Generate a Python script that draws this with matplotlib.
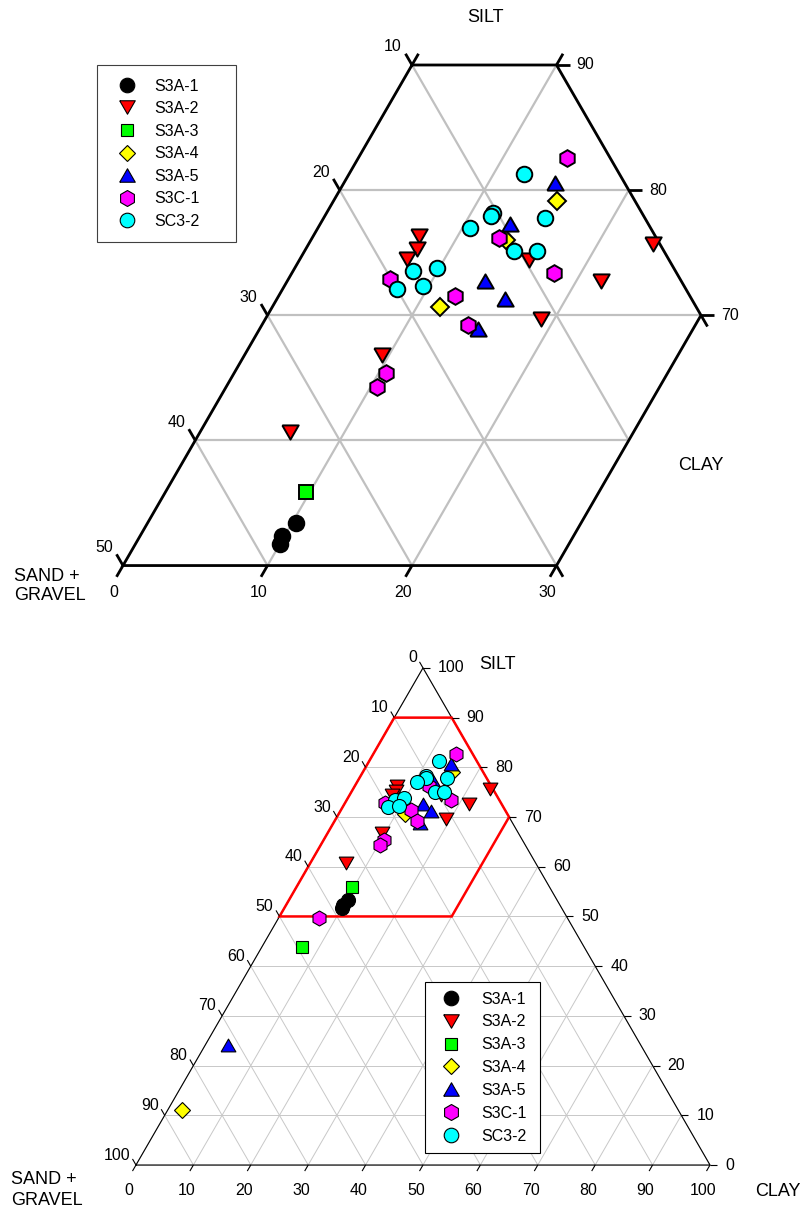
import numpy as np
import matplotlib.pyplot as plt
from matplotlib.lines import Line2D
from matplotlib.patches import Polygon
from matplotlib.path import Path

plt.rcParams['font.family'] = ['Liberation Sans', 'DejaVu Sans']

# samples as (sand + gravel, silt, clay) in percent
s3a_1 = [(36.3, 53.4, 10.3), (37.8, 52.4, 9.8), (38.3, 51.7, 10.0)]
s3a_2 = [(16.4, 76.3, 7.3), (17.0, 75.3, 7.7), (18.1, 74.5, 7.4), (9.7, 74.4, 15.9),
         (5.6, 72.7, 21.7), (11.2, 69.7, 19.1), (0.5, 75.7, 23.8), (23.7, 66.8, 9.5),
         (33.1, 60.7, 6.2)]
s3a_3 = [(34.4, 55.9, 9.7), (49.2, 43.9, 6.9)]
s3a_4 = [(5.4, 79.1, 15.5), (10.5, 76.0, 13.5), (17.7, 70.7, 11.6), (86.5, 11.1, 2.4)]
s3a_5 = [(4.8, 80.6, 14.6), (9.6, 77.3, 13.1), (13.6, 72.7, 13.7), (12.9, 71.3, 15.8),
         (16.0, 68.9, 15.1), (71.9, 24.2, 3.9)]
s3c_1 = [(3.0, 82.6, 14.4), (10.9, 76.2, 12.9), (20.1, 72.9, 7.0), (8.5, 73.4, 18.1),
         (16.3, 71.5, 12.2), (16.5, 69.2, 14.3), (24.1, 65.4, 10.5), (25.3, 64.3, 10.4),
         (43.3, 49.7, 7.0)]
sc3_2 = [(6.6, 81.3, 12.1), (10.3, 78.2, 11.5), (10.6, 77.9, 11.5), (6.9, 77.8, 15.3),
         (12.5, 77.0, 10.5), (10.4, 75.1, 14.5), (8.8, 75.1, 16.1), (18.2, 73.5, 8.3),
         (16.4, 73.8, 9.8), (20.0, 72.1, 7.9), (18.1, 72.3, 9.6)]

names = ['S3A-1', 'S3A-2', 'S3A-3', 'S3A-4', 'S3A-5', 'S3C-1', 'SC3-2']
samples = [s3a_1, s3a_2, s3a_3, s3a_4, s3a_5, s3c_1, sc3_2]
colors = ['black', '#ff0000', '#00ff00', '#ffff00', '#0000ff', '#ff00ff', '#00ffff']

tri_down = [(-1, 0.866), (1, 0.866), (0, -0.866), (-1, 0.866)]
tri_up = [(-1, -0.866), (1, -0.866), (0, 0.866), (-1, -0.866)]
markers = ['o', tri_down, 's', 'D', tri_up, 'h', 'o']
msizes = [11.2, 11.8, 9.8, 8.8, 11.8, 12.0, 11.2]
legend_sizes = [10.5, 11.2, 9.2, 8.6, 11.2, 11.5, 10.5]

# enlarged window, (silt, clay) corners
window = [(90, 0), (90, 10), (70, 30), (50, 30), (50, 0)]

# zoomed axis ticks
sand_ticks = [10, 20, 30, 40, 50]
silt_ticks = [90, 80, 70]
clay_ticks = [0, 10, 20, 30]
full_ticks = list(range(0, 101, 10))

SQ = np.sqrt(3) / 2
W, H = 805, 1215


def tern(silt, clay):
    silt = np.asarray(silt, float)
    clay = np.asarray(clay, float)
    return clay + silt / 2, silt * SQ


def grid_segments():
    segs = []
    for v in range(0, 101, 10):
        segs.append((tern([v, v], [0, 100 - v])))            # constant silt
        segs.append((tern([0, 100 - v], [v, v])))            # constant clay
        segs.append((tern([100 - v, 0], [0, 100 - v])))      # constant sand
    return segs


def ticks(ax, pts, direction, length, lw):
    dx, dy = np.asarray(direction) * length
    for x, y in zip(*pts):
        ax.plot([x, x + dx], [y, y + dy], color='black', lw=lw,
                solid_capstyle='butt', zorder=3, clip_on=False)


def labels(ax, pts, texts, off_px, ha, size):
    for x, y, t in zip(*pts, texts):
        ax.annotate(t, (x, y), xytext=(off_px[0] * 0.72, off_px[1] * 0.72),
                    textcoords='offset points', ha=ha, va='center',
                    fontsize=size, annotation_clip=False)


UPLEFT = (-0.5, SQ)
DOWNLEFT = (-0.5, -SQ)
RIGHT = (1.0, 0.0)

fig = plt.figure(figsize=(W / 100, H / 100), dpi=100)

# ---------------- enlarged window ----------------
ax1 = fig.add_axes([0, 1 - 610 / H, 1, 610 / H])
ax1.set_xlim(16.488, 72.197)
ax1.set_ylim(40.225, 82.440)
ax1.axis('off')
k1 = 14.45

wx, wy = tern([p[0] for p in window], [p[1] for p in window])
clip = Polygon(np.column_stack([wx, wy]), closed=True, fill=False,
               edgecolor='none', transform=ax1.transData)
ax1.add_patch(clip)
for gx, gy in grid_segments():
    ln, = ax1.plot(gx, gy, color='#c0c0c0', lw=1.6, zorder=1)
    ln.set_clip_path(clip)
ax1.plot(np.append(wx, wx[0]), np.append(wy, wy[0]), color='black', lw=2.0,
         solid_joinstyle='miter', zorder=3)

t1 = 13 / k1
ticks(ax1, tern(100 - np.array(sand_ticks), np.zeros(5)), UPLEFT, t1, 2.0)
ticks(ax1, tern(silt_ticks, 100 - np.array(silt_ticks)), RIGHT, t1, 2.0)
ticks(ax1, tern(np.full(4, 50), clay_ticks), DOWNLEFT, t1, 2.0)
ticks(ax1, tern([90, 90], [0, 10]), (0.5, SQ), t1, 2.0)
ticks(ax1, tern([70, 50], [30, 30]), (0.5, -SQ), t1, 2.0)

labels(ax1, tern(100 - np.array(sand_ticks), np.zeros(5)), sand_ticks, (-19, 18), 'center', 11.5)
labels(ax1, tern(silt_ticks, 100 - np.array(silt_ticks)), silt_ticks, (20, 0), 'left', 11.5)
labels(ax1, tern(np.full(4, 50), clay_ticks), clay_ticks, (-9, -27), 'center', 11.5)

inside = Path(np.column_stack([wx, wy]))
for pts, c, m, ms in zip(samples, colors, markers, msizes):
    silt = [p[1] for p in pts]
    clay = [p[2] for p in pts]
    x, y = tern(silt, clay)
    keep = inside.contains_points(np.column_stack([x, y]))
    ax1.plot(x[keep], y[keep], ls='none', marker=m, ms=ms, mfc=c, mec='black',
             mew=1.4, zorder=4, clip_on=False)

fig.text(485 / W, 1 - 18 / H, 'SILT', fontsize=13, ha='center', va='center')
fig.text(678 / W, 1 - 466 / H, 'CLAY', fontsize=13, ha='left', va='center')
fig.text(14 / W, 1 - 586 / H, 'SAND +\nGRAVEL', fontsize=13, ha='left', va='center',
         linespacing=1.2)

# ---------------- full triangle ----------------
ax2 = fig.add_axes([0, 0, 1, 605 / H])
ax2.set_xlim(-23.69, 116.55)
ax2.set_ylim(-8.71, 96.69)
ax2.axis('off')
k2 = 5.74

for gx, gy in grid_segments():
    ax2.plot(gx, gy, color='#c8c8c8', lw=0.7, zorder=1)
bx, by = tern([0, 100, 0, 0], [0, 0, 100, 0])
ax2.plot(bx, by, color='black', lw=0.8, zorder=2)
ax2.plot(np.append(wx, wx[0]), np.append(wy, wy[0]), color='#ff0000', lw=1.8,
         solid_joinstyle='miter', zorder=3)

ft = np.array(full_ticks)
t2 = 7 / k2
ticks(ax2, tern(100 - ft, np.zeros(11)), UPLEFT, t2, 0.8)
ticks(ax2, tern(ft, 100 - ft), RIGHT, t2, 0.8)
ticks(ax2, tern(np.zeros(11), ft), DOWNLEFT, t2, 0.8)
labels(ax2, tern(100 - ft, np.zeros(11)), full_ticks, (-6, 10), 'right', 11.5)
labels(ax2, tern(ft, 100 - ft), full_ticks, (15, 0), 'left', 11.5)
labels(ax2, tern(np.zeros(11), ft), full_ticks, (-7, -25), 'center', 11.5)

for pts, c, m, ms in zip(samples, colors, markers, msizes):
    x, y = tern([p[1] for p in pts], [p[2] for p in pts])
    ax2.plot(x, y, ls='none', marker=m, ms=ms * 0.9, mfc=c, mec='black',
             mew=0.8, zorder=4, clip_on=False)

fig.text(479 / W, 1 - 665 / H, 'SILT', fontsize=13, ha='left', va='center')
fig.text(755 / W, 1 - 1192 / H, 'CLAY', fontsize=13, ha='left', va='center')
fig.text(11 / W, 1 - 1190 / H, 'SAND +\nGRAVEL', fontsize=13, ha='left', va='center',
         linespacing=1.25)

# ---------------- legends ----------------
def handles(mew):
    return [Line2D([], [], ls='none', marker=m, ms=ms, mfc=c, mec='black', mew=mew)
            for c, m, ms in zip(colors, markers, legend_sizes)]


leg1 = fig.legend(handles(0.8), names, loc='upper left',
                  bbox_to_anchor=(97 / W, 1 - 240 / H, 139 / W, 175 / H),
                  bbox_transform=fig.transFigure, mode='expand', fontsize=11.5,
                  fancybox=False, edgecolor='#404040', framealpha=1, borderpad=0.85,
                  labelspacing=0.47, handlelength=2.0, handletextpad=0.75,
                  borderaxespad=0, numpoints=1)
leg1.get_frame().set_linewidth(0.8)

leg2 = fig.legend(handles(0.8), names, loc='upper left',
                  bbox_to_anchor=(425 / W, 1 - 1150 / H, 115 / W, 168 / H),
                  bbox_transform=fig.transFigure, mode='expand', fontsize=11.5,
                  fancybox=False, edgecolor='black', framealpha=1, borderpad=0.6,
                  labelspacing=0.49, handlelength=2.1, handletextpad=0.8,
                  borderaxespad=0, numpoints=1)
leg2.get_frame().set_linewidth(0.8)

fig.savefig('out.png', dpi=100)
